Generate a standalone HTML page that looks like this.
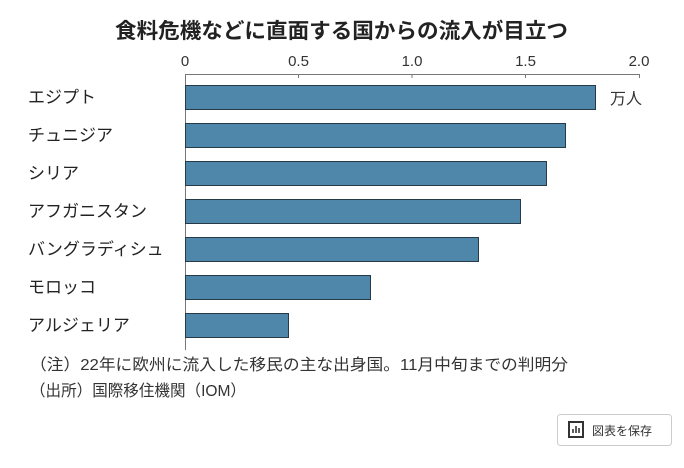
<!DOCTYPE html>
<html><head><meta charset="utf-8"><style>
html,body{margin:0;padding:0;background:#fff;}
body{width:684px;height:463px;overflow:hidden;font-family:"Liberation Sans","Noto Sans CJK JP",sans-serif;}
</style></head><body>
<svg width="684" height="463" xmlns="http://www.w3.org/2000/svg" style="font-family:'Liberation Sans','Noto Sans CJK JP',sans-serif">
<text x="115" y="38" textLength="453" lengthAdjust="spacingAndGlyphs" font-size="21" font-weight="bold" fill="#222">食料危機などに直面する国からの流入が目立つ</text>
<g font-size="15" fill="#333" text-anchor="middle">
<text x="185" y="66">0</text><text x="298.5" y="66">0.5</text><text x="412" y="66">1.0</text><text x="525.5" y="66">1.5</text><text x="639" y="66">2.0</text>
</g>
<g stroke="#777" stroke-width="1">
<line x1="185" y1="74.5" x2="640" y2="74.5"/>
<line x1="298.5" y1="74" x2="298.5" y2="78"/><line x1="412" y1="74" x2="412" y2="78"/><line x1="525.5" y1="74" x2="525.5" y2="78"/><line x1="639.5" y1="74" x2="639.5" y2="78"/>
<line x1="185.5" y1="74" x2="185.5" y2="350"/>
</g>
<g fill="#4f87ab" stroke="#263a48" stroke-width="1">
<rect x="185.5" y="85.5" width="410" height="24"/>
<rect x="185.5" y="123.5" width="380" height="24"/>
<rect x="185.5" y="161.5" width="361" height="24"/>
<rect x="185.5" y="199.5" width="335" height="24"/>
<rect x="185.5" y="237.5" width="293" height="24"/>
<rect x="185.5" y="275.5" width="185" height="24"/>
<rect x="185.5" y="313.5" width="103" height="24"/>
</g>
<text x="610" y="104" font-size="16" fill="#333">万人</text>
<g font-size="17" fill="#222">
<text x="28" y="103">エジプト</text>
<text x="28" y="141">チュニジア</text>
<text x="28" y="179">シリア</text>
<text x="28" y="217">アフガニスタン</text>
<text x="28" y="255">バングラディシュ</text>
<text x="28" y="293">モロッコ</text>
<text x="28" y="331">アルジェリア</text>
</g>
<g font-size="16" fill="#333">
<text x="30" y="370" textLength="538" lengthAdjust="spacingAndGlyphs">（注）22年に欧州に流入した移民の主な出身国。11月中旬までの判明分</text>
<text x="30" y="396" textLength="216" lengthAdjust="spacingAndGlyphs">（出所）国際移住機関（IOM）</text>
</g>
<rect x="557.5" y="414.5" width="114" height="31" rx="3" fill="#fff" stroke="#ccc"/>
<rect x="569" y="422" width="14" height="15" fill="none" stroke="#333" stroke-width="2"/>
<line x1="573" y1="433" x2="573" y2="429" stroke="#333" stroke-width="1.6"/>
<line x1="576" y1="433" x2="576" y2="426" stroke="#333" stroke-width="1.6"/>
<line x1="579" y1="433" x2="579" y2="428" stroke="#333" stroke-width="1.6"/>
<text x="592" y="435" font-size="12" fill="#333">図表を保存</text>
</svg>
</body></html>
